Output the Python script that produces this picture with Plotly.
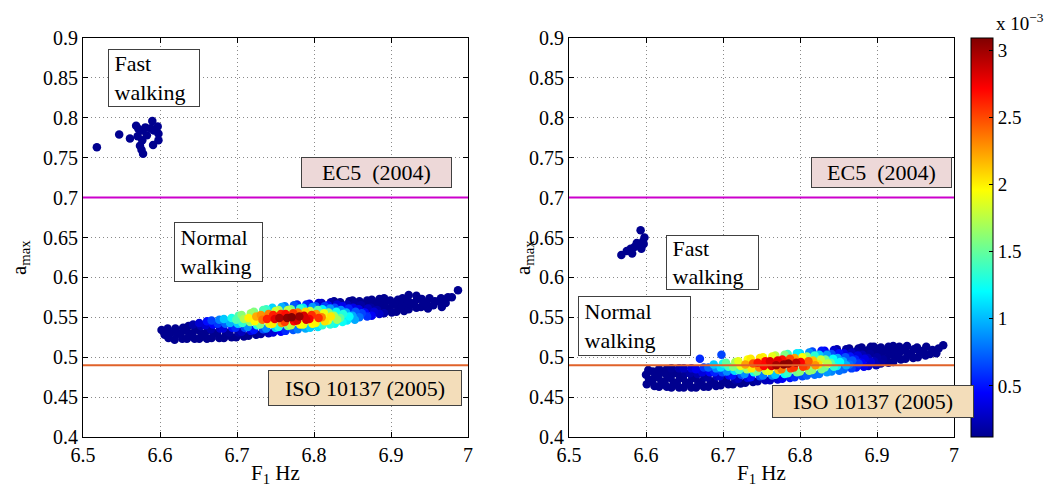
import numpy as np
import plotly.graph_objects as go

# ---------------- data ----------------
x_ticks = [6.5, 6.6, 6.7, 6.8, 6.9, 7.0]
x_tick_labels = ["6.5", "6.6", "6.7", "6.8", "6.9", "7"]
y_ticks = [0.4, 0.45, 0.5, 0.55, 0.6, 0.65, 0.7, 0.75, 0.8, 0.85, 0.9]
y_tick_labels = ["0.4", "0.45", "0.5", "0.55", "0.6", "0.65", "0.7", "0.75", "0.8", "0.85", "0.9"]
cbar_ticks = [0.5, 1.0, 1.5, 2.0, 2.5, 3.0]
cbar_labels = ["0.5", "1", "1.5", "2", "2.5", "3"]
density_range = [0.12, 3.09]   # x 10^-3

EC5_LIMIT = 0.70
ISO_LIMIT = 0.49

# left panel: normal walking cloud (F1 [Hz], a_max, point density x1e-3)
left_f1 = [
    6.602, 6.606,
    6.611, 6.613, 6.610,
    6.619, 6.622, 6.620,
    6.629, 6.627, 6.630,
    6.635, 6.638, 6.634, 6.637,
    6.645, 6.642, 6.646, 6.643,
    6.651, 6.654, 6.650, 6.653, 6.651,
    6.661, 6.658, 6.662, 6.659, 6.661,
    6.667, 6.670, 6.666, 6.669, 6.667,
    6.677, 6.674, 6.678, 6.675, 6.677,
    6.683, 6.686, 6.682, 6.685, 6.683,
    6.693, 6.690, 6.694, 6.691, 6.693,
    6.699, 6.702, 6.698, 6.701, 6.699, 6.702,
    6.709, 6.706, 6.710, 6.707, 6.709, 6.706,
    6.715, 6.718, 6.714, 6.717, 6.715, 6.718,
    6.725, 6.722, 6.726, 6.723, 6.725, 6.722,
    6.731, 6.734, 6.730, 6.733, 6.731, 6.734,
    6.741, 6.738, 6.742, 6.739, 6.741, 6.738,
    6.747, 6.750, 6.746, 6.749, 6.747, 6.750, 6.746,
    6.757, 6.754, 6.758, 6.755, 6.757, 6.754, 6.758,
    6.763, 6.766, 6.762, 6.765, 6.763, 6.766, 6.762,
    6.773, 6.770, 6.774, 6.771, 6.773, 6.770, 6.774,
    6.779, 6.782, 6.778, 6.781, 6.779, 6.782, 6.778,
    6.789, 6.786, 6.790, 6.787, 6.789, 6.786, 6.790,
    6.795, 6.798, 6.794, 6.797, 6.795, 6.798, 6.794,
    6.805, 6.802, 6.806, 6.803, 6.805, 6.802, 6.806,
    6.811, 6.814, 6.810, 6.813, 6.811, 6.814, 6.810,
    6.821, 6.818, 6.822, 6.819, 6.821, 6.818, 6.822,
    6.827, 6.830, 6.826, 6.829, 6.827, 6.830, 6.826,
    6.837, 6.834, 6.838, 6.835, 6.837, 6.834,
    6.843, 6.846, 6.842, 6.845, 6.843, 6.846,
    6.853, 6.850, 6.854, 6.851, 6.853, 6.850,
    6.859, 6.862, 6.858, 6.861, 6.859,
    6.869, 6.866, 6.870, 6.867, 6.869,
    6.875, 6.878, 6.874, 6.877, 6.875,
    6.885, 6.882, 6.886, 6.883, 6.885,
    6.891, 6.894, 6.890, 6.893, 6.891,
    6.901, 6.898, 6.902, 6.899,
    6.907, 6.910, 6.906, 6.909,
    6.917, 6.914, 6.918, 6.915,
    6.923, 6.926, 6.922, 6.923,
    6.933, 6.930, 6.934, 6.933,
    6.939, 6.942, 6.940,
    6.948, 6.946, 6.950,
    6.955, 6.957,
    6.966, 6.962, 6.965,
    6.971, 6.974,
    6.979,
    6.987,
]
left_amax = [
    0.534, 0.528,
    0.524, 0.530, 0.536,
    0.522, 0.529, 0.536,
    0.523, 0.530, 0.537,
    0.523, 0.529, 0.534, 0.539,
    0.523, 0.529, 0.535, 0.541,
    0.523, 0.529, 0.534, 0.539, 0.543,
    0.523, 0.529, 0.534, 0.540, 0.545,
    0.524, 0.530, 0.535, 0.541, 0.546,
    0.524, 0.530, 0.536, 0.542, 0.547,
    0.524, 0.530, 0.536, 0.542, 0.548,
    0.525, 0.531, 0.537, 0.543, 0.549,
    0.525, 0.531, 0.537, 0.542, 0.547, 0.552,
    0.526, 0.532, 0.537, 0.543, 0.548, 0.553,
    0.527, 0.533, 0.538, 0.544, 0.549, 0.555,
    0.528, 0.534, 0.540, 0.545, 0.551, 0.557,
    0.529, 0.535, 0.541, 0.547, 0.553, 0.559,
    0.530, 0.536, 0.542, 0.548, 0.554, 0.560,
    0.531, 0.537, 0.542, 0.548, 0.553, 0.558, 0.562,
    0.532, 0.538, 0.543, 0.549, 0.554, 0.559, 0.563,
    0.533, 0.539, 0.544, 0.549, 0.554, 0.559, 0.564,
    0.534, 0.540, 0.545, 0.550, 0.555, 0.560, 0.565,
    0.535, 0.541, 0.546, 0.551, 0.556, 0.561, 0.566,
    0.536, 0.541, 0.547, 0.552, 0.557, 0.562, 0.566,
    0.537, 0.542, 0.548, 0.553, 0.558, 0.563, 0.567,
    0.538, 0.543, 0.549, 0.554, 0.559, 0.564, 0.568,
    0.540, 0.545, 0.550, 0.555, 0.560, 0.564, 0.568,
    0.541, 0.546, 0.551, 0.556, 0.561, 0.565, 0.569,
    0.542, 0.547, 0.552, 0.557, 0.562, 0.566, 0.570,
    0.544, 0.549, 0.554, 0.559, 0.564, 0.569,
    0.546, 0.551, 0.556, 0.561, 0.566, 0.570,
    0.547, 0.552, 0.557, 0.562, 0.567, 0.571,
    0.550, 0.555, 0.560, 0.565, 0.570,
    0.551, 0.556, 0.561, 0.566, 0.571,
    0.552, 0.557, 0.562, 0.567, 0.572,
    0.554, 0.559, 0.564, 0.569, 0.573,
    0.555, 0.560, 0.565, 0.570, 0.574,
    0.556, 0.561, 0.566, 0.571,
    0.557, 0.562, 0.567, 0.572,
    0.558, 0.564, 0.569, 0.574,
    0.560, 0.566, 0.571, 0.578,
    0.562, 0.568, 0.573, 0.577,
    0.563, 0.568, 0.573,
    0.561, 0.567, 0.574,
    0.565, 0.570,
    0.563, 0.570, 0.574,
    0.568, 0.575,
    0.575,
    0.584,
]
left_density = [
    .12, .12,
    .12, .12, .12,
    .12, .12, .12,
    .12, .12, .12,
    .12, .12, .12, .12,
    .12, .12, .12, .20,
    .12, .12, .12, .21, .32,
    .12, .12, .12, .31, .48,
    .12, .12, .19, .44, .64,
    .12, .12, .28, .61, .83,
    .12, .12, .34, .74, 1.04,
    .12, .15, .48, .98, 1.27,
    .12, .18, .57, 1.06, 1.44, 1.44,
    .12, .26, .66, 1.34, 1.72, 1.61,
    .12, .37, .88, 1.65, 1.99, 1.65,
    .13, .51, 1.28, 1.97, 2.21, 1.58,
    .18, .67, 1.58, 2.38, 2.29, 1.42,
    .26, .87, 1.89, 2.63, 2.35, 1.35,
    .34, 1.08, 2.01, 2.80, 2.63, 1.82, 1.08,
    .45, 1.31, 2.29, 2.97, 2.61, 1.70, .97,
    .57, 1.54, 2.53, 3.05, 2.68, 1.75, .82,
    .70, 1.76, 2.71, 3.08, 2.56, 1.56, .70,
    .82, 1.95, 2.83, 3.01, 2.35, 1.34, .57,
    .96, 1.88, 2.83, 2.83, 2.08, 1.12, .55,
    1.06, 1.96, 2.74, 2.58, 1.78, .90, .42,
    1.13, 1.98, 2.57, 2.26, 1.47, .69, .31,
    1.33, 2.04, 2.32, 1.92, 1.17, .63, .28,
    1.31, 1.90, 2.02, 1.58, .90, .47, .20,
    1.24, 1.69, 1.69, 1.24, .67, .33, .13,
    1.23, 1.48, 1.30, .85, .40, .14,
    1.14, 1.21, .95, .54, .23, .12,
    .95, .95, .70, .38, .15, .12,
    .78, .65, .39, .18, .12,
    .59, .46, .26, .12, .12,
    .43, .32, .17, .12, .12,
    .29, .19, .12, .12, .12,
    .20, .12, .12, .12, .12,
    .13, .12, .12, .12,
    .12, .12, .12, .12,
    .12, .12, .12, .12,
    .12, .12, .12, .12,
    .12, .12, .12, .12,
    .12, .12, .12,
    .12, .12, .12,
    .12, .12,
    .12, .12, .12,
    .12, .12,
    .12,
    .12,
]

# left panel: fast walking cluster
left_fast_f1 = [6.518, 6.547, 6.561, 6.569, 6.572, 6.577, 6.581, 6.590, 6.588, 6.597,
                6.598, 6.598, 6.591, 6.577, 6.574, 6.576, 6.578, 6.571, 6.583, 6.592]
left_fast_amax = [0.763, 0.779, 0.774, 0.790, 0.786, 0.784, 0.788, 0.796, 0.787, 0.789,
                  0.780, 0.772, 0.766, 0.772, 0.765, 0.760, 0.755, 0.777, 0.778, 0.784]
left_fast_density = [.12, .12, .12, .12, .12, .12, .12, .12, .12, .12,
                     .12, .12, .12, .12, .12, .12, .12, .12, .12, .12]

# right panel: normal walking cloud
right_f1 = [
    6.601, 6.604, 6.600, 6.603,
    6.611, 6.608, 6.612, 6.609,
    6.617, 6.620, 6.616, 6.619, 6.617,
    6.627, 6.624, 6.628, 6.625, 6.627,
    6.633, 6.636, 6.632, 6.635, 6.633,
    6.643, 6.640, 6.644, 6.641, 6.643,
    6.649, 6.652, 6.648, 6.651, 6.649,
    6.659, 6.656, 6.660, 6.657, 6.659,
    6.665, 6.668, 6.664, 6.667, 6.665,
    6.675, 6.672, 6.676, 6.673, 6.675, 6.670,
    6.681, 6.684, 6.680, 6.683, 6.681,
    6.691, 6.688, 6.692, 6.689, 6.691, 6.688,
    6.697, 6.700, 6.696, 6.699, 6.697, 6.700, 6.698,
    6.707, 6.704, 6.708, 6.705, 6.707, 6.704,
    6.713, 6.716, 6.712, 6.715, 6.713, 6.716,
    6.723, 6.720, 6.724, 6.721, 6.723, 6.720,
    6.729, 6.732, 6.728, 6.731, 6.729, 6.732,
    6.739, 6.736, 6.740, 6.737, 6.739, 6.736,
    6.745, 6.748, 6.744, 6.747, 6.745, 6.748,
    6.755, 6.752, 6.756, 6.753, 6.755, 6.752,
    6.761, 6.764, 6.760, 6.763, 6.761, 6.764,
    6.771, 6.768, 6.772, 6.769, 6.771, 6.768,
    6.777, 6.780, 6.776, 6.779, 6.777, 6.780,
    6.787, 6.784, 6.788, 6.785, 6.787, 6.784,
    6.793, 6.796, 6.792, 6.795, 6.793, 6.796,
    6.803, 6.800, 6.804, 6.801, 6.803, 6.800,
    6.809, 6.812, 6.808, 6.811, 6.809, 6.812,
    6.819, 6.816, 6.820, 6.817, 6.819, 6.816,
    6.825, 6.828, 6.824, 6.827, 6.825, 6.828,
    6.835, 6.832, 6.836, 6.833, 6.835, 6.832,
    6.841, 6.844, 6.840, 6.843, 6.841, 6.844,
    6.851, 6.848, 6.852, 6.849, 6.851, 6.848,
    6.857, 6.860, 6.856, 6.859, 6.857, 6.860,
    6.867, 6.864, 6.868, 6.865, 6.867, 6.864,
    6.873, 6.876, 6.872, 6.875, 6.873, 6.876,
    6.883, 6.880, 6.884, 6.881, 6.883, 6.880,
    6.889, 6.892, 6.888, 6.891, 6.889, 6.892,
    6.899, 6.896, 6.900, 6.897, 6.899, 6.896,
    6.905, 6.908, 6.904, 6.907, 6.905,
    6.915, 6.912, 6.916, 6.913, 6.915,
    6.921, 6.924, 6.920, 6.923, 6.921,
    6.931, 6.928, 6.932, 6.929,
    6.937, 6.940, 6.936, 6.939,
    6.947, 6.944, 6.948,
    6.953, 6.956, 6.952,
    6.963, 6.960, 6.964,
    6.969, 6.972,
    6.977, 6.980,
    6.986,
]
right_amax = [
    0.466, 0.472, 0.478, 0.484,
    0.464, 0.470, 0.476, 0.482,
    0.463, 0.469, 0.475, 0.481, 0.485,
    0.463, 0.469, 0.475, 0.480, 0.485,
    0.462, 0.468, 0.474, 0.480, 0.486,
    0.462, 0.468, 0.474, 0.480, 0.486,
    0.462, 0.468, 0.474, 0.480, 0.486,
    0.462, 0.468, 0.474, 0.480, 0.486,
    0.462, 0.468, 0.474, 0.479, 0.485,
    0.463, 0.469, 0.475, 0.481, 0.487, 0.498,
    0.463, 0.469, 0.475, 0.481, 0.487,
    0.464, 0.470, 0.476, 0.481, 0.486, 0.491,
    0.465, 0.471, 0.476, 0.481, 0.487, 0.492, 0.503,
    0.466, 0.471, 0.477, 0.482, 0.488, 0.493,
    0.466, 0.472, 0.477, 0.483, 0.488, 0.494,
    0.467, 0.473, 0.478, 0.484, 0.489, 0.495,
    0.468, 0.474, 0.479, 0.485, 0.491, 0.497,
    0.469, 0.475, 0.481, 0.486, 0.492, 0.498,
    0.470, 0.476, 0.482, 0.487, 0.493, 0.499,
    0.471, 0.477, 0.483, 0.489, 0.495, 0.500,
    0.471, 0.477, 0.483, 0.489, 0.495, 0.501,
    0.472, 0.478, 0.484, 0.490, 0.496, 0.502,
    0.473, 0.479, 0.485, 0.491, 0.497, 0.503,
    0.474, 0.480, 0.486, 0.492, 0.498, 0.504,
    0.475, 0.481, 0.487, 0.493, 0.499, 0.505,
    0.476, 0.482, 0.488, 0.494, 0.500, 0.505,
    0.477, 0.483, 0.489, 0.495, 0.501, 0.506,
    0.478, 0.484, 0.490, 0.496, 0.502, 0.507,
    0.479, 0.485, 0.491, 0.497, 0.503, 0.508,
    0.481, 0.487, 0.492, 0.497, 0.503, 0.508,
    0.482, 0.488, 0.493, 0.498, 0.504, 0.509,
    0.483, 0.489, 0.494, 0.499, 0.505, 0.510,
    0.485, 0.490, 0.495, 0.500, 0.505, 0.510,
    0.486, 0.491, 0.496, 0.501, 0.506, 0.511,
    0.487, 0.492, 0.497, 0.502, 0.507, 0.511,
    0.488, 0.493, 0.498, 0.503, 0.508, 0.512,
    0.489, 0.494, 0.499, 0.504, 0.509, 0.513,
    0.490, 0.495, 0.500, 0.505, 0.510, 0.513,
    0.492, 0.497, 0.502, 0.507, 0.512,
    0.493, 0.498, 0.503, 0.508, 0.513,
    0.494, 0.499, 0.504, 0.509, 0.514,
    0.497, 0.503, 0.508, 0.513,
    0.498, 0.504, 0.509, 0.514,
    0.499, 0.505, 0.510,
    0.500, 0.506, 0.512,
    0.502, 0.508, 0.513,
    0.504, 0.509,
    0.505, 0.511,
    0.515,
]
right_density = [
    .12, .12, .12, .12,
    .12, .12, .12, .12,
    .12, .12, .12, .12, .12,
    .12, .12, .12, .12, .12,
    .12, .12, .12, .12, .14,
    .12, .12, .12, .12, .20,
    .12, .12, .12, .14, .26,
    .12, .12, .12, .19, .34,
    .12, .12, .12, .21, .41,
    .12, .12, .14, .35, .60, .57,
    .12, .12, .17, .44, .75,
    .12, .12, .25, .54, .86, 1.04,
    .12, .12, .31, .65, 1.11, 1.27, .65,
    .12, .13, .43, .86, 1.37, 1.49,
    .12, .19, .50, 1.11, 1.59, 1.70,
    .12, .27, .67, 1.40, 1.89, 1.89,
    .12, .37, .88, 1.71, 2.23, 1.95,
    .13, .50, 1.26, 2.02, 2.47, 2.02,
    .18, .65, 1.54, 2.33, 2.65, 2.03,
    .25, .82, 1.81, 2.70, 2.70, 1.99,
    .26, .85, 1.89, 2.82, 2.82, 1.89,
    .33, 1.03, 2.14, 2.98, 2.79, 1.75,
    .42, 1.21, 2.35, 3.06, 2.68, 1.58,
    .51, 1.37, 2.50, 3.05, 2.50, 1.37,
    .59, 1.51, 2.56, 2.92, 2.24, 1.15,
    .67, 1.60, 2.54, 2.72, 1.95, 1.09,
    .74, 1.64, 2.44, 2.44, 1.64, .87,
    .78, 1.63, 2.27, 2.12, 1.33, .67,
    .80, 1.56, 2.04, 1.79, 1.05, .50,
    .90, 1.53, 1.76, 1.53, .90, .43,
    .85, 1.35, 1.47, 1.21, .67, .30,
    .78, 1.17, 1.20, .94, .48, .20,
    .75, .97, .94, .69, .39, .16,
    .64, .78, .71, .50, .26, .12,
    .52, .60, .52, .35, .17, .12,
    .41, .45, .37, .23, .12, .12,
    .31, .32, .25, .15, .12, .12,
    .23, .23, .17, .12, .12, .12,
    .17, .15, .12, .12, .12,
    .12, .12, .12, .12, .12,
    .12, .12, .12, .12, .12,
    .12, .12, .12, .12,
    .12, .12, .12, .12,
    .12, .12, .12,
    .12, .12, .12,
    .12, .12, .12,
    .12, .12,
    .12, .12,
    .12,
]

# right panel: fast walking cluster
right_fast_f1 = [6.568, 6.575, 6.580, 6.585, 6.590, 6.594, 6.596, 6.598, 6.593, 6.588, 6.582, 6.597]
right_fast_amax = [0.628, 0.633, 0.636, 0.638, 0.640, 0.636, 0.645, 0.650, 0.659, 0.643, 0.630, 0.642]
right_fast_density = [.12, .12, .12, .12, .12, .12, .12, .12, .12, .12, .12, .12]

assert len(left_f1) == len(left_amax) == len(left_density)
assert len(right_f1) == len(right_amax) == len(right_density)

# ---------------- styling ----------------
SERIF = "Liberation Serif"
jet = [
    [0.000, "rgb(0,0,143)"],
    [0.111, "rgb(0,0,255)"],
    [0.365, "rgb(0,255,255)"],
    [0.619, "rgb(255,255,0)"],
    [0.873, "rgb(255,0,0)"],
    [1.000, "rgb(128,0,0)"],
]

W, H = 1049, 489
def px_x(p):
    return p / W
def px_y(p):
    return (H - p) / H

fig = go.Figure()

def add_panel(f1, amax, dens, xa, ya):
    f1 = np.asarray(f1); amax = np.asarray(amax); dens = np.asarray(dens)
    order = np.argsort(dens, kind="stable")
    fig.add_trace(go.Scatter(
        x=f1[order], y=amax[order], mode="markers", xaxis=xa, yaxis=ya,
        marker=dict(size=8.5, color=dens[order], coloraxis="coloraxis", line=dict(width=0)),
        showlegend=False, hoverinfo="skip"))

add_panel(left_f1 + left_fast_f1, left_amax + left_fast_amax, left_density + left_fast_density, "x", "y")
add_panel(right_f1 + right_fast_f1, right_amax + right_fast_amax, right_density + right_fast_density, "x2", "y2")

axis_common = dict(
    showline=True, linecolor="black", linewidth=1, mirror="ticks",
    ticks="inside", ticklen=5, tickcolor="black", tickwidth=1,
    showgrid=True, gridcolor="#8a8a8a", griddash="1px,3px", gridwidth=1,
    zeroline=False, tickfont=dict(family=SERIF, size=20, color="black"),
)
ydom = [px_y(437), px_y(38)]
fig.update_layout(
    width=W, height=H, margin=dict(l=0, r=0, t=0, b=0, autoexpand=False),
    paper_bgcolor="white", plot_bgcolor="white",
    xaxis=dict(domain=[px_x(83), px_x(468)], range=[6.5, 7.0], anchor="y",
               tickvals=x_ticks, ticktext=x_tick_labels, **axis_common),
    yaxis=dict(domain=ydom, range=[0.4, 0.9], anchor="x",
               tickvals=y_ticks, ticktext=y_tick_labels, **axis_common),
    xaxis2=dict(domain=[px_x(569), px_x(954)], range=[6.5, 7.0], anchor="y2",
                tickvals=x_ticks, ticktext=x_tick_labels, **axis_common),
    yaxis2=dict(domain=ydom, range=[0.4, 0.9], anchor="x2",
                tickvals=y_ticks, ticktext=y_tick_labels, **axis_common),
    coloraxis=dict(
        colorscale=jet, cmin=density_range[0], cmax=density_range[1],
        colorbar=dict(
            x=px_x(971), xanchor="left", xpad=0,
            y=px_y(437), yanchor="bottom", ypad=0,
            len=(437 - 38) / H, lenmode="fraction",
            thickness=22, thicknessmode="pixels",
            outlinecolor="black", outlinewidth=1,
            ticks="inside", ticklen=4, tickcolor="black",
            tickvals=cbar_ticks, ticktext=cbar_labels,
            tickfont=dict(family=SERIF, size=19, color="black"),
        ),
    ),
)

# limit lines
for xa, ya in (("x", "y"), ("x2", "y2")):
    fig.add_shape(type="line", xref=f"{xa} domain", yref=ya, x0=0, x1=1,
                  y0=EC5_LIMIT, y1=EC5_LIMIT, line=dict(color="#CC00CC", width=2), layer="above")
    fig.add_shape(type="line", xref=f"{xa} domain", yref=ya, x0=0, x1=1,
                  y0=ISO_LIMIT, y1=ISO_LIMIT, line=dict(color="#E0622A", width=2), layer="above")

NB = "\u00a0"
def box(xref, yref, x, y, text, w, h, bg="white", align="center"):
    fig.add_annotation(x=x, y=y, xref=xref, yref=yref, text=text, showarrow=False,
                       xanchor="center", yanchor="middle", align=align, valign="middle",
                       width=w, height=h, bgcolor=bg, bordercolor="#404040",
                       borderwidth=1, borderpad=0,
                       font=dict(family=SERIF, size=22, color="black"))

# left panel labels
box("x", "y", 6.592, 0.850, NB + "Fast<br>" + NB + "walking", 90, 56, align="left")
box("x", "y", 6.881, 0.7315, "EC5  (2004)", 149, 29, bg="#EDD8D8")
box("x", "y", 6.676, 0.632, NB + "Normal<br>" + NB + "walking", 87, 58, align="left")
box("x", "y", 6.866, 0.4614, "ISO 10137 (2005)", 192, 34, bg="#F3DDBA")
# right panel labels
box("x2", "y2", 6.906, 0.7315, "EC5  (2004)", 139, 29, bg="#EDD8D8")
box("x2", "y2", 6.687, 0.619, NB + "Fast<br>" + NB + "walking", 91, 53, align="left")
box("x2", "y2", 6.585, 0.539, NB + "Normal<br>" + NB + "walking", 111, 58, align="left")
box("x2", "y2", 6.895, 0.4445, "ISO 10137 (2005)", 200, 31, bg="#F3DDBA")

# axis titles
for cx in (275.5, 761.5):
    fig.add_annotation(x=px_x(cx), y=px_y(474), xref="paper", yref="paper",
                       text="F<sub>1</sub> Hz", showarrow=False, xanchor="center", yanchor="middle",
                       font=dict(family=SERIF, size=21, color="black"))
for cx in (20, 524):
    fig.add_annotation(x=px_x(cx), y=px_y(258), xref="paper", yref="paper",
                       text="a<sub>max</sub>", showarrow=False, textangle=-90,
                       xanchor="center", yanchor="middle",
                       font=dict(family=SERIF, size=21, color="black"))
# colorbar multiplier
fig.add_annotation(x=px_x(1046), y=px_y(22), xref="paper", yref="paper",
                   text="x 10<sup>−3</sup>", showarrow=False, xanchor="right", yanchor="middle",
                   font=dict(family=SERIF, size=19, color="black"))

fig.write_html(
    "out.html",
    config={"displayModeBar": False},
    post_script="document.body.style.margin='0';document.body.style.padding='0';"
                "document.body.style.overflow='hidden';",
)
